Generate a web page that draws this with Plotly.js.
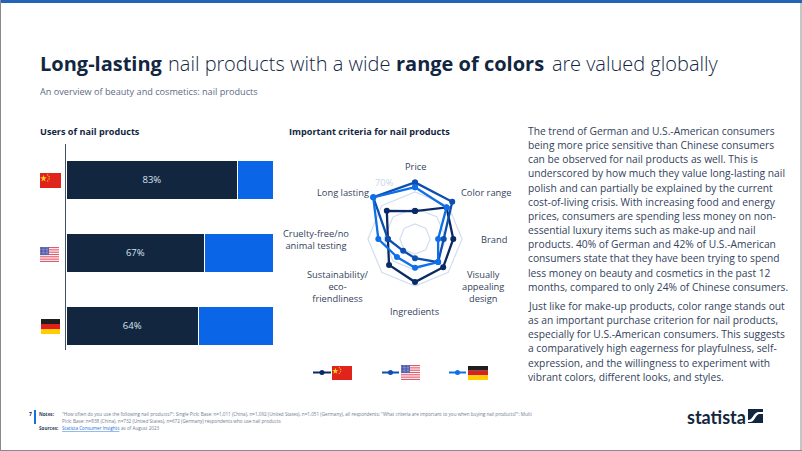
<!DOCTYPE html>
<html><head><meta charset="utf-8">
<script src="https://cdn.plot.ly/plotly-3.0.1.min.js"></script>
<style>html,body{margin:0;padding:0;background:#fff;overflow:hidden}#c{width:802px;height:451px}</style>
</head><body><div id="c"></div>
<script>
const countries = ['China','United States','Germany'];
const users = [83,67,64];
const nonUsers = [17,33,36];
const criteria = ['Price','Color range','Brand','Visually appealing design','Ingredients','Sustainability/eco-friendliness','Cruelty-free/no animal testing','Long lasting'];
const china = [26,47,39,41,45,37,25,41];
const us = [62,57,27,32,15,12,25,65];
const germany = [56,47,20,32,27,23,37,65];
const ringValues = [10,30,50,70];
const bodyLines1 = ['The trend of German and U.S.-American consumers','being more price sensitive than Chinese consumers','can be observed for nail products as well. This is','underscored by how much they value long-lasting nail','polish and can partially be explained by the current','cost-of-living crisis. With increasing food and energy','prices, consumers are spending less money on non-','essential luxury items such as make-up and nail','products. 40% of German and 42% of U.S.-American','consumers state that they have been trying to spend','less money on beauty and cosmetics in the past 12','months, compared to only 24% of Chinese consumers.'];
const bodyLines2 = ['Just like for make-up products, color range stands out','as an important purchase criterion for nail products,','especially for U.S.-American consumers. This suggests','a comparatively high eagerness for playfulness, self-','expression, and the willingness to experiment with','vibrant colors, different looks, and styles.'];
const noteLines = ['"How often do you use the following nail products?"; Single Pick; Base: n=1,011 (China), n=1,092 (United States), n=1,051 (Germany), all respondents; "What criteria are important to you when buying nail products?"; Multi','Pick; Base: n=838 (China), n=732 (United States), n=672 (Germany) respondents who use nail products'];

const W=802,H=451;
const px=x=>x/W, py=y=>1-y/H;
const FONT='"Open Sans", sans-serif';
const NAVY='#12263f', INK='#33435c';
const cChina='#0a2a66', cUS='#0c4fb0', cDE='#0f6fe8';

function svg(s,w,h){return 'data:image/svg+xml;utf8,'+encodeURIComponent('<svg xmlns="http://www.w3.org/2000/svg" width="'+w*4+'" height="'+h*4+'" viewBox="0 0 '+w+' '+h+'" preserveAspectRatio="none">'+s+'</svg>');}
const flagCN=svg('<rect width="30" height="20" fill="#e0231c"/><polygon points="5,2.5 6.1,5.8 9.6,5.8 6.8,7.9 7.9,11.2 5,9.2 2.1,11.2 3.2,7.9 0.4,5.8 3.9,5.8" fill="#ffd21f"/><circle cx="11" cy="2.5" r=".9" fill="#ffd21f"/><circle cx="13" cy="5" r=".9" fill="#ffd21f"/><circle cx="13" cy="8" r=".9" fill="#ffd21f"/><circle cx="11" cy="10.5" r=".9" fill="#ffd21f"/>',30,20);
let st='';for(let i=0;i<7;i++){st+='<rect y="'+(i*2*20/13)+'" width="30" height="'+(20/13)+'" fill="#e2596b"/>';}
let dots='';for(let r=0;r<5;r++)for(let c=0;c<6;c++){dots+='<circle cx="'+(1.2+c*2.2)+'" cy="'+(1.2+r*2)+'" r=".55" fill="#fff"/>';}
const flagUS=svg('<rect width="30" height="20" fill="#fff"/>'+st+'<rect width="14" height="10.8" fill="#4a55a8"/>'+dots,30,20);
const flagDE=svg('<rect width="30" height="6.67" fill="#1e1e1e"/><rect y="6.67" width="30" height="6.67" fill="#dd1f1f"/><rect y="13.33" width="30" height="6.67" fill="#ffce00"/>',30,20);
const logo=svg('<rect width="30" height="28" fill="#12263f"/><path d="M0 22 C10 22 10 8 20 6 L30 6 L30 10 L22 10 C14 12 14 26 4 26 L0 26 Z" fill="#fff"/>',30,28);

function img(src,x0,x1,y0,y1){return {source:src,xref:'paper',yref:'paper',x:px(x0),y:py(y0),sizex:(x1-x0)/W,sizey:(y1-y0)/H,sizing:'stretch',xanchor:'left',yanchor:'top',layer:'above'};}
function txt(text,x,y,size,color,opt){const o=opt||{};const dx=(o.xanchor==='center')?0:-1;return Object.assign({text:text,x:px(x+dx),y:py(y),xref:'paper',yref:'paper',xanchor:'left',yanchor:'middle',showarrow:false,align:'left',borderpad:0,font:{family:FONT,size:size,color:color}},o);}

const anns=[];
const LIGHT={family:'"Open Sans Light", "Open Sans", sans-serif',size:20,color:NAVY,weight:300};
const BOLD={family:FONT,size:20,color:NAVY,weight:700};
anns.push(txt('Long-lasting',40,64,20,NAVY,{font:BOLD}));
anns.push(txt('nail products with a wide',168,64,20,NAVY,{font:LIGHT}));
anns.push(txt('range of colors',396,64,20,NAVY,{font:BOLD}));
anns.push(txt('are valued globally',552,64,20,NAVY,{font:LIGHT}));
anns.push(txt('An overview of beauty and cosmetics: nail products',40,91,9.15,'#5b6b84'));
anns.push(txt('<b>Users of nail products</b>',40,131,9.15,NAVY));
anns.push(txt('<b>Important criteria for nail products</b>',289,131,9.15,NAVY));
bodyLines1.forEach((l,i)=>anns.push(txt(l,528,131+14.15*i,10.25,INK)));
bodyLines2.forEach((l,i)=>anns.push(txt(l,528,306+14.13*i,10.25,INK)));
const labelPos=[[415,166,'Price'],[486.5,192.5,'Color range'],[494,239,'Brand'],[482.5,286,'Visually<br>appealing<br>design'],[415,311.5,'Ingredients'],[338,286,'Sustainability/<br>eco-<br>friendliness'],[316,239,'Cruelty-free/no<br>animal testing'],[342.5,192.5,'Long lasting']];
labelPos.forEach(p=>anns.push(txt(p[2],p[0],p[1],9.3,INK,{xanchor:'center',align:'center'})));
anns.push(txt('70%',384,182,9.3,'#c9d6ec',{xanchor:'center'}));
anns.push(txt('7',30.5,414,5,NAVY,{xanchor:'center',font:{family:FONT,size:5,color:NAVY,weight:700}}));
anns.push(txt('<b>Notes:</b>',39,414,4.63,INK));
anns.push(txt(noteLines[0],62,414,4.63,'#6f7c91'));
anns.push(txt(noteLines[1],62,421,4.63,'#6f7c91'));
anns.push(txt('<b>Sources:</b>',39,428,4.63,INK));
anns.push(txt('<u>Statista Consumer Insights</u>',62,428,4.63,'#1f6fd6'));
anns.push(txt('as of August 2023',121,428,4.63,'#6f7c91'));
anns.push(txt('statista',687,417,18,NAVY,{font:{family:'Lato, "Open Sans", sans-serif',size:18,color:NAVY,weight:700}}));

const shapes=[
 {type:'rect',xref:'paper',yref:'paper',x0:0,x1:1,y0:py(3),y1:1,fillcolor:'#2563b8',line:{width:0}},
 {type:'line',xref:'paper',yref:'paper',x0:px(.5),x1:px(.5),y0:0,y1:1,line:{color:'#8a8a8a',width:1}},
 {type:'line',xref:'paper',yref:'paper',x0:px(801),x1:px(801),y0:0,y1:py(3),line:{color:'#8a8a8a',width:1}},
 {type:'line',xref:'paper',yref:'paper',x0:0,x1:1,y0:py(450.5),y1:py(450.5),line:{color:'#8a8a8a',width:1}},
 {type:'rect',xref:'paper',yref:'paper',x0:px(34),x1:px(36),y0:py(424),y1:py(410),fillcolor:'#1a6fe0',line:{width:0}}
];
[[313,331,cChina],[382,399,cUS],[449,466,cDE]].forEach(k=>{
 shapes.push({type:'line',xref:'paper',yref:'paper',x0:px(k[0]),x1:px(k[1]),y0:py(372.5),y1:py(372.5),line:{color:k[2],width:2}});
 const m=(k[0]+k[1])/2;
 shapes.push({type:'circle',xref:'paper',yref:'paper',x0:px(m-2.5),x1:px(m+2.5),y0:py(375),y1:py(370),fillcolor:k[2],line:{width:0}});
});

const close=a=>a.concat(a[0]);
const polarTrace=(name,vals,color)=>({type:'scatterpolar',name:name,subplot:'polar',r:close(vals),theta:close(criteria),mode:'lines+markers',line:{color:color,width:2.3,shape:'linear'},marker:{color:color,size:6},hoverinfo:'skip'});
const data=[
 {type:'bar',orientation:'h',x:users,y:countries,marker:{color:NAVY,line:{color:'#fff',width:1}},text:users.map(v=>v+'%'),textposition:'inside',insidetextanchor:'middle',textangle:0,textfont:{family:FONT,size:9.5,color:'#d9e2ee'},hoverinfo:'skip',name:'Users'},
 {type:'bar',orientation:'h',x:nonUsers,y:countries,marker:{color:'#0a66e6',line:{color:'#fff',width:1}},hoverinfo:'skip',name:'Non-users'},
 polarTrace('China',china,cChina),polarTrace('United States',us,cUS),polarTrace('Germany',germany,cDE)
];
const layout={width:W,height:H,margin:{l:0,r:0,t:0,b:0},paper_bgcolor:'#fff',plot_bgcolor:'rgba(0,0,0,0)',showlegend:false,barmode:'stack',bargap:0.466,
 xaxis:{domain:[px(66),px(273)],range:[0,100],visible:false,fixedrange:true},
 yaxis:{domain:[py(350),py(143.5)],type:'category',categoryorder:'array',categoryarray:countries,range:[2.33,-0.5],showticklabels:false,ticks:'',showgrid:false,zeroline:false,showline:true,linecolor:'#3f5068',linewidth:1.5,anchor:'x',fixedrange:true},
 polar:{domain:{x:[px(352),px(478)],y:[py(302),py(176)]},gridshape:'linear',bgcolor:'rgba(0,0,0,0)',
  radialaxis:{range:[-9,70],tickvals:ringValues,showticklabels:false,ticks:'',showline:false,showgrid:true,gridcolor:'#d3ddf0',gridwidth:1.2,angle:90},
  angularaxis:{type:'category',categoryorder:'array',categoryarray:criteria,rotation:90,direction:'clockwise',showticklabels:false,ticks:'',showgrid:false,showline:false}},
 annotations:anns,shapes:shapes,
 images:[img(flagCN,40,61,173,188),img(flagUS,40,59,247,262),img(flagDE,41,60,319,334),img(flagCN,332,352,366,380),img(flagUS,401,420,365,380),img(flagDE,468,488,366,380),img(logo,748,763,409,423)]
};
Plotly.newPlot('c',data,layout,{displayModeBar:false,staticPlot:true});
</script></body></html>
